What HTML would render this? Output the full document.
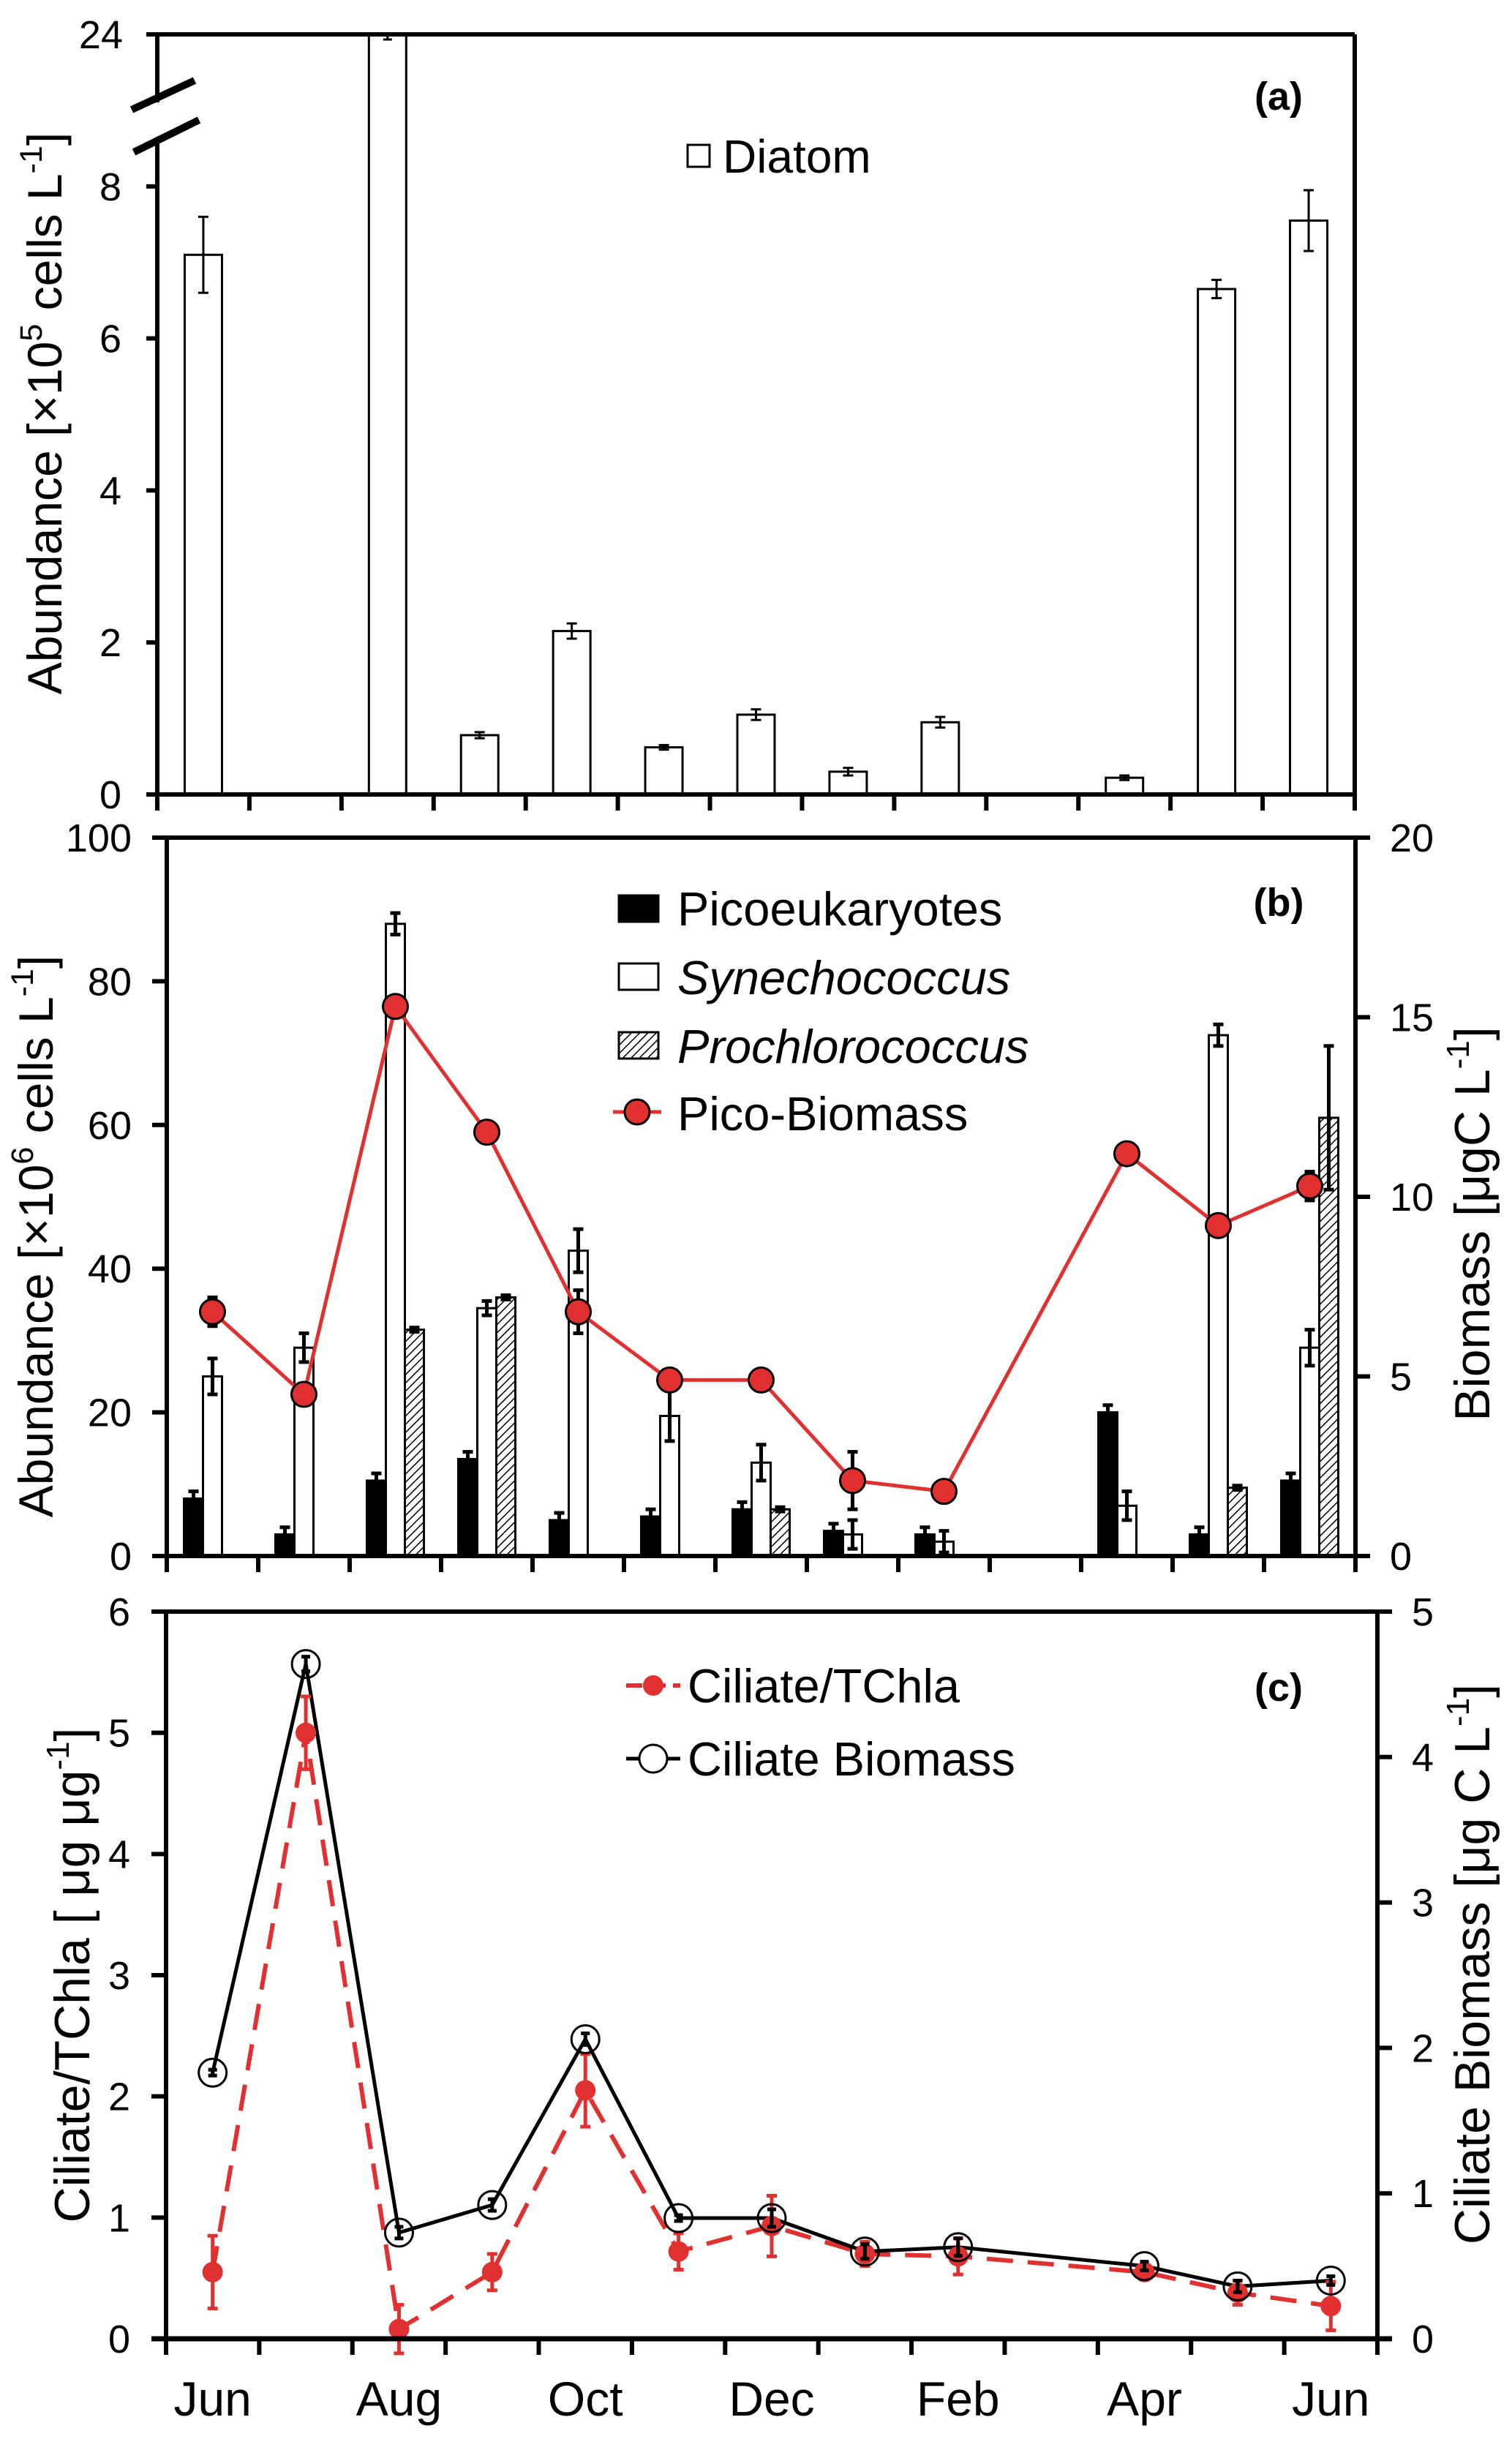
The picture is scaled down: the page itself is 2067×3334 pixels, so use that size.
<!DOCTYPE html>
<html><head><meta charset="utf-8">
<style>
html,body{margin:0;padding:0;background:#fff;}
svg{display:block;font-family:"Liberation Sans",Arial,sans-serif;}
</style></head>
<body>
<svg id="chart" width="2067" height="3334" viewBox="0 0 2067 3334" xmlns="http://www.w3.org/2000/svg">
<defs>
<pattern id="hatch" patternUnits="userSpaceOnUse" width="8" height="8" patternTransform="rotate(45)">
<rect width="8" height="8" fill="#fff"/><line x1="0" y1="0" x2="0" y2="8" stroke="#000" stroke-width="3"/>
</pattern>
</defs>
<g id="g"></g>
</svg>
<script>
// ---------- data ----------
const months = ["Jun","Aug","Oct","Dec","Feb","Apr","Jun"];
const diatomIdx = [0,2,3,4,5,6,7,8,10,11,12];
const diatomVal = [7.1,24,0.78,2.15,0.62,1.05,0.3,0.95,0.22,6.65,7.55];
const diatomErr = [0.5,0.3,0.04,0.1,0.03,0.07,0.05,0.07,0.03,0.12,0.4];
const picoIdx = [0,1,2,3,4,5,6,7,8,10,11,12];
const picoVal = [8,3,10.5,13.5,5,5.5,6.5,3.5,3,20,3,10.5];
const picoErr = [1,1,1,1,1,1,1,1,1,1,1,1];
const synIdx = [0,1,2,3,4,5,6,7,8,10,11,12];
const synVal = [25,29,88,34.5,42.5,19.5,13,3,2,7,72.5,29];
const synErr = [2.5,2,1.5,1,3,3.5,2.5,2,1.5,2,1.5,2.5];
const proIdx = [2,3,6,11,12];
const proVal = [31.5,36,6.5,9.5,61];
const proErr = [0.3,0.3,0.3,0.3,10];
const bioIdx = [0,1,2,3,4,5,6,7,8,10,11,12];
const bioVal = [6.8,4.5,15.3,11.8,6.8,4.9,4.9,2.1,1.8,11.2,9.2,10.3];
const bioErr = [0.4,0.2,0.2,0.2,0.6,0.2,0.2,0.8,0.2,0.2,0.2,0.4];
const cilIdx = [0,1,2,3,4,5,6,7,8,10,11,12];
const ratioVal = [0.55,5.0,0.08,0.55,2.05,0.72,0.93,0.7,0.68,0.55,0.38,0.27];
const ratioErr = [0.3,0.3,0.2,0.15,0.3,0.15,0.25,0.1,0.15,0.05,0.1,0.2];
const cbioVal = [1.83,4.64,0.73,0.92,2.06,0.83,0.83,0.6,0.63,0.5,0.36,0.4];
const cbioErr = [0.02,0.05,0.04,0.04,0.04,0.02,0.06,0.05,0.06,0.03,0.04,0.03];
const ticksA = [0,2,4,6,8];
const ticksB = [0,20,40,60,80,100];
const ticksBR = [0,5,10,15,20];
const ticksC = [0,1,2,3,4,5,6];
const ticksCR = [0,1,2,3,4,5];

// ---------- helpers ----------
const NS="http://www.w3.org/2000/svg";
const root=document.getElementById('g');
function el(tag,attrs,parent){const e=document.createElementNS(NS,tag);for(const k in attrs)e.setAttribute(k,attrs[k]);(parent||root).appendChild(e);return e;}
function txt(s,attrs,parent){const e=el('text',attrs,parent);e.textContent=s;return e;}
function line(x1,y1,x2,y2,w,c,parent){return el('line',{x1,y1,x2,y2,stroke:c||'#000','stroke-width':w||5},parent);}
function errbar(x,y1,y2,cap,w,c,parent){line(x,y1,x,y2,w,c,parent);line(x-cap,y1,x+cap,y1,w,c,parent);line(x-cap,y2,x+cap,y2,w,c,parent);}
const TF=54;

// ---------- Panel A ----------
const A={l:215,r:1852,t:47,b:1086};
const aStep=(A.r-A.l)/13;
function ax(i){return A.l+aStep*(i+0.5);}
function ay(v){return v>8.6?A.t:A.b-v*103.9;}
const gA=el('g',{});


diatomIdx.forEach((idx,k)=>{
  const x=ax(idx),v=diatomVal[k],w=51;
  const r=el('rect',{x:x-w/2,y:ay(v),width:w,height:A.b-ay(v),fill:'#fff',stroke:'#000','stroke-width':3},gA);
  
  
  if(v>8.6){errbar(x,A.t,A.t+7,6,3,'#000',gA);}
  else errbar(x,ay(v+diatomErr[k]),ay(v-diatomErr[k]),7,3,'#000',gA);
});
line(A.l,A.t,A.r,A.t,6,'#000',gA);
line(A.l,A.b,A.r,A.b,6,'#000',gA);
line(A.r,A.t,A.r,A.b+22,6,'#000',gA);
line(A.l,A.t,A.l,140,6,'#000',gA);
line(A.l,195,A.l,A.b+22,6,'#000',gA);
line(180,150,266,110,10,'#000',gA);
line(183,208,272,164,10,'#000',gA);
line(200,A.t,A.l,A.t,6,'#000',gA);
txt('24',{x:168,y:A.t+19,'font-size':TF,'text-anchor':'end'},gA);
ticksA.forEach(v=>{line(200,ay(v),A.l,ay(v),6,'#000',gA);txt(String(v),{x:166,y:ay(v)+19,'font-size':TF,'text-anchor':'end'},gA);});
for(let i=1;i<13;i++)line(A.l+aStep*i,A.b,A.l+aStep*i,A.b+22,6,'#000',gA);
const ta=txt('',{transform:'translate(84,565) rotate(-90)','font-size':66,'text-anchor':'middle'},gA);
ta.innerHTML='Abundance [×10<tspan font-size="43" dy="-27">5</tspan><tspan dy="27"> cells L</tspan><tspan font-size="43" dy="-27">-1</tspan><tspan dy="27">]</tspan>';


txt('(a)',{x:1748,y:150,'font-size':54,'font-weight':'bold','text-anchor':'middle'},gA);
const la=el('g',{},gA);


el('rect',{x:940,y:198,width:30,height:30,fill:'#fff',stroke:'#000','stroke-width':3},la);
txt('Diatom',{x:988,y:236,'font-size':64},la);

// ---------- Panel B ----------
const B={l:228,r:1853,t:1145,b:2127};
const bStep=(B.r-B.l)/13;
function bx(i){return B.l+bStep*(i+0.5);}
function by(v){return B.b-v/100*(B.b-B.t);}
function byR(v){return B.b-v/20*(B.b-B.t);}
const gB=el('g',{});


const bw=26;
function bars(idxs,vals,errs,off,fill,name){
  idxs.forEach((idx,k)=>{
    const x=bx(idx)+off,v=vals[k];
    const r=el('rect',{x:x-bw/2,y:by(v),width:bw,height:B.b-by(v),fill:fill,stroke:'#000','stroke-width':3},gB);
    
    
    errbar(x,by(v+errs[k]),by(v-errs[k]),7,5,'#000',gB);
  });
}
bars(picoIdx,picoVal,picoErr,-bw,'#000','picoeukaryote-bar');
bars(synIdx,synVal,synErr,0,'#fff','synechococcus-bar');
bars(proIdx,proVal,proErr,bw,'url(#hatch)','prochlorococcus-bar');
let pts=bioIdx.map((idx,k)=>bx(idx)+','+byR(bioVal[k])).join(' ');
const pl=el('polyline',{points:pts,fill:'none',stroke:'#e03030','stroke-width':5},gB);


bioIdx.forEach((idx,k)=>{
  const x=bx(idx),y=byR(bioVal[k]);
  errbar(x,byR(bioVal[k]+bioErr[k]),byR(bioVal[k]-bioErr[k]),7,5,'#000',gB);
  const c=el('circle',{cx:x,cy:y,r:17,fill:'#e03030',stroke:'#000','stroke-width':3},gB);
  
  
});
line(B.l,B.t,B.r+20,B.t,6,'#000',gB);
line(B.l,B.b,B.r,B.b,6,'#000',gB);
line(B.l,B.t,B.l,B.b+22,6,'#000',gB);
line(B.r,B.t,B.r,B.b+22,6,'#000',gB);
for(let i=1;i<13;i++)line(B.l+bStep*i,B.b,B.l+bStep*i,B.b+22,6,'#000',gB);
ticksB.forEach(v=>{line(B.l-20,by(v),B.l,by(v),6,'#000',gB);txt(String(v),{x:180,y:by(v)+19,'font-size':TF,'text-anchor':'end'},gB);});
ticksBR.forEach(v=>{line(B.r,byR(v),B.r+20,byR(v),6,'#000',gB);txt(String(v),{x:1900,y:byR(v)+19,'font-size':TF},gB);});
const tb=txt('',{transform:'translate(72,1690) rotate(-90)','font-size':66,'text-anchor':'middle'},gB);
tb.innerHTML='Abundance [×10<tspan font-size="43" dy="-27">6</tspan><tspan dy="27"> cells L</tspan><tspan font-size="43" dy="-27">-1</tspan><tspan dy="27">]</tspan>';


const tbr=txt('',{transform:'translate(2036,1673) rotate(-90)','font-size':68,'text-anchor':'middle'},gB);
tbr.innerHTML='Biomass [μgC L<tspan font-size="44" dy="-28">-1</tspan><tspan dy="28">]</tspan>';


txt('(b)',{x:1748,y:1252,'font-size':54,'font-weight':'bold','text-anchor':'middle'},gB);
const lb=el('g',{},gB);


el('rect',{x:846,y:1224,width:54,height:36,fill:'#000',stroke:'#000','stroke-width':3},lb);
txt('Picoeukaryotes',{x:926,y:1265,'font-size':65},lb);
el('rect',{x:846,y:1317,width:54,height:36,fill:'#fff',stroke:'#000','stroke-width':3},lb);
txt('Synechococcus',{x:926,y:1359,'font-size':65,'font-style':'italic'},lb);
el('rect',{x:846,y:1411,width:54,height:36,fill:'url(#hatch)',stroke:'#000','stroke-width':3},lb);
txt('Prochlorococcus',{x:926,y:1453,'font-size':65,'font-style':'italic'},lb);
line(838,1520,904,1520,5,'#e03030',lb);
el('circle',{cx:871,cy:1520,r:17,fill:'#e03030',stroke:'#000','stroke-width':3},lb);
txt('Pico-Biomass',{x:926,y:1545,'font-size':65},lb);

// ---------- Panel C ----------
const C={l:227,r:1883,t:2203,b:3197};
const cStep=(C.r-C.l)/13;
function cx(i){return C.l+cStep*(i+0.5);}
function cy(v){return C.b-v/6*(C.b-C.t);}
function cyR(v){return C.b-v/5*(C.b-C.t);}
const gC=el('g',{});


const rp=cilIdx.map((idx,k)=>cx(idx)+','+cy(ratioVal[k])).join(' ');
const rl=el('polyline',{points:rp,fill:'none',stroke:'#e03030','stroke-width':6,'stroke-dasharray':'36,20'},gC);


const bp=cilIdx.map((idx,k)=>cx(idx)+','+cyR(cbioVal[k])).join(' ');
const bl=el('polyline',{points:bp,fill:'none',stroke:'#000','stroke-width':5},gC);


cilIdx.forEach((idx,k)=>{
  const x=cx(idx);
  errbar(x,cy(ratioVal[k]+ratioErr[k]),cy(ratioVal[k]-ratioErr[k]),7,5,'#e03030',gC);
  const p=el('circle',{cx:x,cy:cy(ratioVal[k]),r:14,fill:'#e03030'},gC);
  
  
  errbar(x,cyR(cbioVal[k]+cbioErr[k]),cyR(cbioVal[k]-cbioErr[k]),6,5,'#000',gC);
  const q=el('circle',{cx:x,cy:cyR(cbioVal[k]),r:19,fill:'none',stroke:'#000','stroke-width':3},gC);
  
  
});
line(C.l-20,C.t,C.r,C.t,6,'#000',gC);
line(C.l-20,C.b,C.r+20,C.b,7,'#000',gC);
line(C.l,C.t,C.l,C.b+22,6,'#000',gC);
line(C.r,C.t,C.r,C.b+22,6,'#000',gC);
for(let i=1;i<13;i++)line(C.l+cStep*i,C.b,C.l+cStep*i,C.b+22,6,'#000',gC);
ticksC.forEach(v=>{line(C.l-20,cy(v),C.l,cy(v),6,'#000',gC);txt(String(v),{x:178,y:cy(v)+19,'font-size':TF,'text-anchor':'end'},gC);});
ticksCR.forEach(v=>{line(C.r,cyR(v),C.r+20,cyR(v),6,'#000',gC);txt(String(v),{x:1930,y:cyR(v)+19,'font-size':TF},gC);});
months.forEach((m,k)=>{const t=txt(m,{x:cx(2*k),y:3302,'font-size':66,'text-anchor':'middle'},gC);
  
  });
const tc=txt('',{transform:'translate(122,2700) rotate(-90)','font-size':68,'text-anchor':'middle'},gC);
tc.innerHTML='Ciliate/TChla [ μg μg<tspan font-size="44" dy="-28">-1</tspan><tspan dy="28">]</tspan>';


const tcr=txt('',{transform:'translate(2036,2685) rotate(-90)','font-size':68,'text-anchor':'middle'},gC);
tcr.innerHTML='Ciliate Biomass [μg C L<tspan font-size="44" dy="-28">-1</tspan><tspan dy="28">]</tspan>';


txt('(c)',{x:1748,y:2325,'font-size':54,'font-weight':'bold','text-anchor':'middle'},gC);
const lc=el('g',{},gC);


line(856,2304,930,2304,6,'#e03030',lc).setAttribute('stroke-dasharray','22,10');
el('circle',{cx:893,cy:2304,r:14,fill:'#e03030'},lc);
txt('Ciliate/TChla',{x:940,y:2327,'font-size':65},lc);
line(856,2404,930,2404,5,'#000',lc);
el('circle',{cx:893,cy:2404,r:19,fill:'#fff',stroke:'#000','stroke-width':3},lc);
txt('Ciliate Biomass',{x:940,y:2427,'font-size':65},lc);
</script>
</body></html>
